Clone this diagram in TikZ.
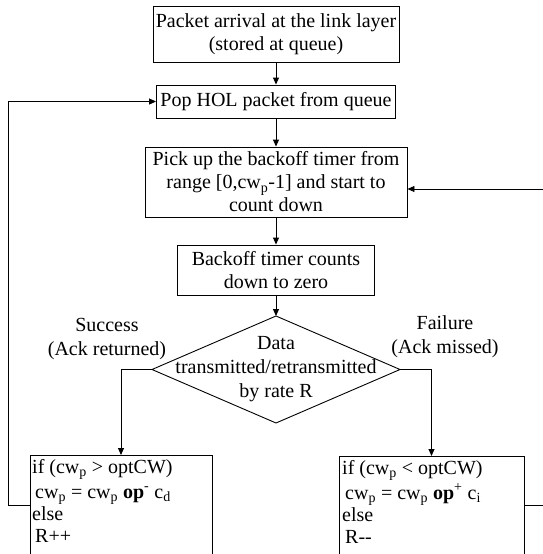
\documentclass[tikz,border=0pt]{standalone}
\usepackage{fontspec}
\setmainfont{Liberation Serif}
\usetikzlibrary{arrows.meta}
\begin{document}
\begin{tikzpicture}[x=1pt,y=-1pt,
  ln/.style={line width=0.9pt, draw=black},
  box/.style={ln, inner sep=0pt, align=center, font=\fontsize{20}{23}\selectfont},
  txt/.style={inner sep=0pt, align=center, font=\fontsize{20}{24}\selectfont},
  codetxt/.style={inner sep=0pt, align=left, anchor=north west, font=\fontsize{20}{22}\selectfont},
  arr/.style={ln, -{Triangle[length=7pt,width=6pt]}}]
\useasboundingbox (0,0) rectangle (543,554);
\clip (0,0) rectangle (543,554);
% main column
\node[box, minimum width=246pt, minimum height=56pt] (b1) at (276,34) {Packet arrival at the link layer\\(stored at queue)};
\node[box, minimum width=239pt, minimum height=33pt] (b2) at (276,101.5) {Pop HOL packet from queue};
\node[box, minimum width=262pt, minimum height=70pt] (b3) at (276,182) {Pick up the backoff timer from\\range [0,cw\textsubscript{p}-1] and start to\\count down};
\node[box, minimum width=197pt, minimum height=50pt] (b4) at (276,270) {Backoff timer counts\\down to zero};
% decision
\coordinate (dT) at (276,316);
\coordinate (dB) at (276,423);
\coordinate (dL) at (152,369.5);
\coordinate (dR) at (400,369.5);
\draw[ln] (dT) -- (dR) -- (dB) -- (dL) -- cycle;
\node[txt] (dec) at (276,369) {Data\\transmitted/retransmitted\\by rate R};
\node[txt] (succ) at (107,339.5) {Success\\(Ack returned)};
\node[txt] (fail) at (445,337) {Failure\\(Ack missed)};
% bottom boxes
\node[ln, draw, inner sep=0pt, minimum width=182pt, minimum height=130pt, anchor=north] (lb) at (121,455) {};
\node[ln, draw, inner sep=0pt, minimum width=185pt, minimum height=130pt, anchor=north] (rb) at (431.5,456) {};
\node[codetxt] (lt) at (32,459) {if (cw\textsubscript{p} > optCW)\\[3pt]\hspace*{3pt}cw\textsubscript{p} = cw\textsubscript{p} \textbf{op}\textsuperscript{-} c\textsubscript{d}\\else\\\hspace*{3pt}R++};
\node[codetxt] (rt) at (342,460) {if (cw\textsubscript{p} < optCW)\\[3pt]\hspace*{3pt}cw\textsubscript{p} = cw\textsubscript{p} \textbf{op}\textsuperscript{+} c\textsubscript{i}\\else\\\hspace*{3pt}R-{}-};
% connectors
\draw[arr] (b1.south) -- (b2.north);
\draw[arr] (b2.south) -- (b3.north);
\draw[arr] (b3.south) -- (b4.north);
\draw[arr] (b4.south) -- (dT);
\draw[arr] (dL) -- (dL -| lb.north) -- (lb.north);
\draw[arr] (dR) -- (dR -| rb.north) -- (rb.north);
\coordinate (lcorner) at (8,505);
\coordinate (rcorner) at (545,505);
\draw[arr] ([yshift=-50pt]lb.north west) -- (lcorner) |- (b2.west);
\draw[arr] ([yshift=-49pt]rb.north east) -- (rcorner) |- ([yshift=-7pt]b3.east);
\end{tikzpicture}
\end{document}
